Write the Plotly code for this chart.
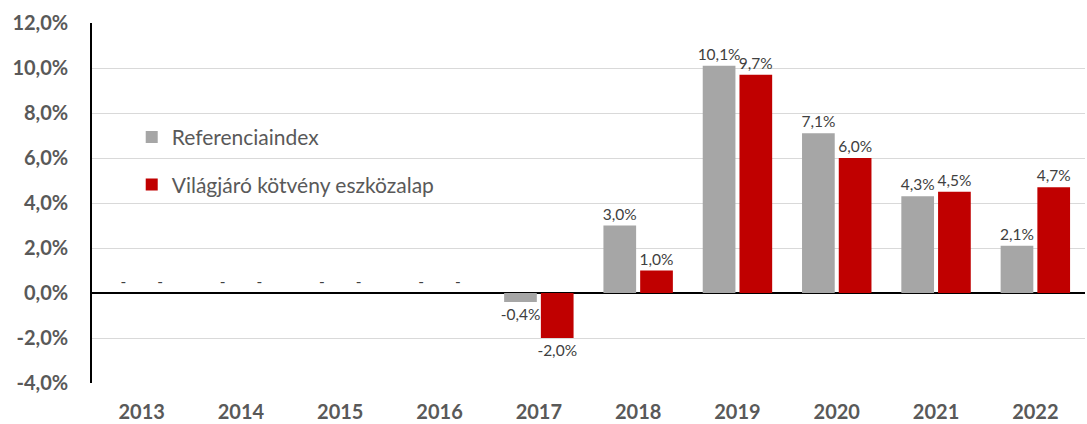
import plotly.graph_objects as go

years = ["2013", "2014", "2015", "2016", "2017", "2018", "2019", "2020", "2021", "2022"]
referencia = [0.0, 0.0, 0.0, 0.0, -0.4, 3.0, 10.1, 7.1, 4.3, 2.1]
vilagjaro = [0.0, 0.0, 0.0, 0.0, -2.0, 1.0, 9.7, 6.0, 4.5, 4.7]
y_ticks = [-4, -2, 0, 2, 4, 6, 8, 10, 12]


def fmt(v):
    if v == 0:
        return "-"
    return f"{v:.1f}%".replace(".", ",")


def tick_fmt(v):
    return f"{v:.1f}%".replace(".", ",")


FONT = "Lato, Open Sans, sans-serif"
GREY_TXT = "#595959"

fig = go.Figure()
fig.add_trace(go.Bar(
    x=years, y=referencia, name="Referenciaindex", legendgroup="a",
    marker=dict(color="#a6a6a6", line=dict(width=0)),
    text=[fmt(v) for v in referencia], textposition="outside",
    textfont=dict(size=15.5, color="#404040", family=FONT),
    cliponaxis=False, constraintext="none",
))
fig.add_trace(go.Bar(
    x=years, y=vilagjaro, name="Világjáró kötvény eszközalap", legendgroup="b",
    marker=dict(color="#c00000", line=dict(width=0)),
    text=[fmt(v) for v in vilagjaro], textposition="outside",
    textfont=dict(size=15.5, color="#404040", family=FONT),
    cliponaxis=False, constraintext="none",
))

fig.update_layout(
    width=1087, height=424,
    margin=dict(l=92, r=2, t=23, b=41),
    paper_bgcolor="white", plot_bgcolor="white",
    barmode="group", bargap=0.26, bargroupgap=0.11,
    font=dict(family=FONT, color=GREY_TXT),
    showlegend=True,
    legend=dict(
        x=0.04, y=0.739, xanchor="left", yanchor="top",
        font=dict(size=21, color=GREY_TXT, family=FONT),
        bgcolor="rgba(0,0,0,0)", tracegroupgap=17, traceorder="grouped",
        itemsizing="constant",
    ),
)
fig.update_xaxes(
    type="category", showgrid=False, showline=False, ticks="",
    tickvals=years, ticktext=[f"<b>{y}</b>" for y in years],
    tickfont=dict(size=20, color=GREY_TXT, family=FONT),
    ticklabelstandoff=15,
)
fig.update_yaxes(
    range=[-4, 12], tickvals=y_ticks, ticktext=[f"<b>{tick_fmt(v)}</b>" for v in y_ticks],
    showgrid=True, gridcolor="#d9d9d9", gridwidth=1,
    zeroline=True, zerolinecolor="black", zerolinewidth=1.5,
    showline=True, linecolor="black", linewidth=1.5,
    tickfont=dict(size=20, color=GREY_TXT, family=FONT),
    ticks="", ticklabelstandoff=18,
)

fig.write_html("out.html")
